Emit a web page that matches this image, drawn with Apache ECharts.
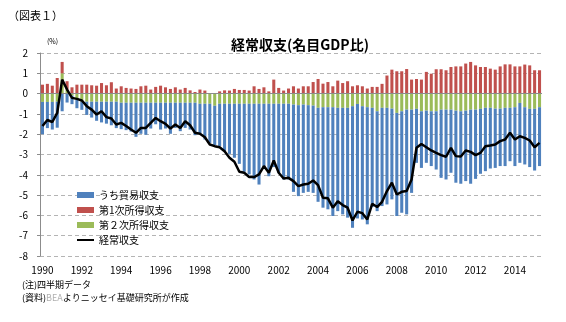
<!DOCTYPE html>
<html>
<head>
<meta charset="utf-8">
<script src="https://cdn.jsdelivr.net/npm/echarts@6/dist/echarts.min.js"></script>
<style>
html,body{margin:0;padding:0;background:#fff;}
#c{width:566px;height:322px;}
</style>
</head>
<body>
<div id="c"></div>
<script>
// Quarterly, 1990Q1 - 2015Q2
const firstYear = 1990;
const quarterCount = 102;
const yTicks = [-8, -7, -6, -5, -4, -3, -2, -1, 0, 1, 2];

// うち貿易収支 (% of nominal GDP)
const tradeBalance = [
 -1.59,-1.29,-1.36,-1.28,-0.87,-0.44,-0.42,-0.42,-0.40,-0.65,-0.78,-0.94,-1.02,-1.08,-1.16,-1.30,
 -1.30,-1.35,-1.42,-1.68,-1.53,-1.58,-1.27,-1.06,-1.32,-1.27,-1.53,-1.24,-1.40,-1.24,-1.32,-1.60,
 -1.48,-1.76,-1.93,-1.94,-2.09,-2.34,-2.47,-2.66,-2.96,-3.35,-3.48,-3.73,-3.98,-3.16,-3.57,-3.12,
 -3.40,-3.73,-3.73,-4.30,-4.48,-4.35,-4.27,-4.30,-4.63,-4.95,-5.03,-5.36,-5.09,-5.25,-5.41,-5.99,
 -5.64,-5.58,-5.77,-4.89,-4.92,-4.84,-4.76,-4.47,-5.08,-5.00,-5.16,-4.10,-2.66,-2.79,-2.57,-2.70,
 -2.87,-3.36,-3.44,-3.11,-3.55,-3.57,-3.47,-3.65,-3.41,-3.20,-3.12,-2.99,-2.92,-2.83,-2.87,-2.63,
 -2.90,-2.95,-2.82,-2.87,-3.04,-2.90
];
// 第1次所得収支
const primaryIncome = [
 0.44,0.48,0.39,0.77,0.56,0.41,0.31,0.44,0.44,0.44,0.41,0.39,0.52,0.41,0.56,0.25,
 0.36,0.28,0.25,0.23,0.36,0.39,0.20,0.33,0.39,0.31,0.23,0.31,0.20,0.28,0.16,0.08,
 0.20,0.15,0.03,0.02,0.11,0.16,0.15,0.23,0.18,0.18,0.15,0.36,0.23,0.31,0.11,0.69,
 0.28,0.15,0.25,0.36,0.25,0.36,0.36,0.57,0.72,0.49,0.57,0.36,0.64,0.52,0.61,0.36,
 0.41,0.36,0.25,0.33,0.33,0.48,0.89,1.18,1.10,1.10,1.21,0.69,0.72,0.69,1.07,0.98,
 1.20,1.20,1.15,1.31,1.34,1.34,1.48,1.56,1.39,1.31,1.31,1.23,1.18,1.34,1.44,1.44,
 1.34,1.34,1.43,1.39,1.15,1.15
];
// 第2次所得収支
const secondaryIncome = [
 -0.41,-0.41,-0.41,-0.40,1.00,0.20,-0.10,-0.30,-0.40,-0.40,-0.40,-0.40,-0.40,-0.40,-0.40,-0.40,
 -0.45,-0.45,-0.45,-0.45,-0.45,-0.45,-0.45,-0.45,-0.45,-0.45,-0.45,-0.45,-0.45,-0.45,-0.45,-0.45,
 -0.50,-0.50,-0.50,-0.60,-0.50,-0.50,-0.50,-0.50,-0.50,-0.50,-0.50,-0.50,-0.50,-0.50,-0.50,-0.50,
 -0.50,-0.50,-0.50,-0.54,-0.57,-0.54,-0.57,-0.59,-0.70,-0.67,-0.67,-0.67,-0.70,-0.70,-0.70,-0.62,
 -0.51,-0.62,-0.67,-0.70,-0.87,-0.70,-0.70,-0.74,-0.95,-0.87,-0.79,-0.79,-0.75,-0.87,-0.84,-0.87,
 -0.87,-0.79,-0.79,-0.79,-0.84,-0.87,-0.84,-0.79,-0.79,-0.75,-0.70,-0.70,-0.74,-0.74,-0.70,-0.70,
 -0.67,-0.46,-0.67,-0.75,-0.75,-0.67
];
// 経常収支
const currentAccount = [
 -1.60,-1.30,-1.40,-0.95,0.69,0.20,-0.21,-0.26,-0.34,-0.62,-0.79,-1.03,-0.87,-1.16,-1.23,-1.52,
 -1.44,-1.60,-1.77,-1.93,-1.69,-1.69,-1.44,-1.20,-1.36,-1.49,-1.72,-1.52,-1.69,-1.36,-1.56,-1.93,
 -1.98,-2.15,-2.51,-2.59,-2.64,-2.84,-3.16,-3.36,-3.85,-3.90,-4.11,-4.11,-3.98,-3.57,-3.90,-3.30,
 -3.90,-4.18,-4.15,-4.31,-4.56,-4.48,-4.44,-4.28,-4.51,-5.13,-5.16,-5.62,-5.30,-5.49,-5.62,-6.25,
 -5.82,-5.89,-6.20,-5.43,-5.59,-5.33,-4.80,-4.39,-4.97,-4.84,-4.80,-4.23,-2.67,-2.48,-2.64,-2.80,
 -2.92,-3.03,-3.11,-2.67,-3.08,-3.10,-2.80,-2.87,-3.03,-2.92,-2.59,-2.56,-2.51,-2.34,-2.26,-1.93,
 -2.26,-2.10,-2.18,-2.31,-2.64,-2.43
];

const categories = [];
for (let i = 0; i < quarterCount; i++) {
  categories.push((firstYear + Math.floor(i / 4)) + 'Q' + (i % 4 + 1));
}

const FONT = '"Noto Sans CJK JP", "Noto Sans", sans-serif';
const LINE_ICON = 'path://M0,0L0.01,0L0.01,0.01Z M0,2.1L17,2.1L17,3.9L0,3.9Z M16.99,5.99L17,5.99L17,6Z';
const chart = echarts.init(document.getElementById('c'), null, {renderer: 'canvas'});
chart.setOption({
  animation: false,
  backgroundColor: '#ffffff',
  textStyle: {fontFamily: FONT},
  title: {
    text: '経常収支(名目GDP比)',
    left: 226, top: 33,
    textStyle: {fontFamily: FONT, fontSize: 14, fontWeight: 'bold', color: '#000'}
  },
  graphic: [
    {type: 'text', left: 8, top: 10, style: {text: '（図表１）', font: '11px ' + FONT, fill: '#000'}},
    {type: 'text', left: 47, top: 38, style: {text: '(%)', font: '7px ' + FONT, fill: '#000'}},
    {type: 'text', left: 22, top: 280, style: {text: '(注)四半期データ', font: '9px ' + FONT, fill: '#000'}},
    {type: 'text', left: 22, top: 293, style: {
      text: '(資料){g|BEA}よりニッセイ基礎研究所が作成', font: '9px ' + FONT, fill: '#000',
      rich: {g: {fill: '#b0b0b0', font: '9px ' + FONT}}
    }}
  ],
  legend: {
    orient: 'vertical',
    left: 77, top: 189, padding: 0,
    itemWidth: 17, itemHeight: 6, itemGap: 3,
    textStyle: {fontFamily: FONT, fontSize: 10, color: '#000', lineHeight: 12},
    data: [
      {name: 'うち貿易収支', icon: 'rect'},
      {name: '第1次所得収支', icon: 'rect'},
      {name: '第２次所得収支', icon: 'rect'},
      {name: '経常収支', icon: LINE_ICON, itemStyle: {color: '#000'}}
    ]
  },
  grid: {left: 40, right: 24, top: 53, bottom: 66, containLabel: false},
  xAxis: {
    type: 'category',
    data: categories,
    boundaryGap: true,
    axisLine: {show: false, onZero: false},
    axisTick: {show: false},
    axisLabel: {
      interval: 7, margin: 9, fontSize: 10, color: '#000', fontFamily: FONT,
      formatter: v => v.slice(0, 4)
    },
    splitLine: {show: false}
  },
  yAxis: {
    type: 'value',
    min: yTicks[0], max: yTicks[yTicks.length - 1], interval: 1,
    axisLine: {show: true, lineStyle: {color: '#8c8c8c', width: 1}},
    axisTick: {show: true, length: 3, lineStyle: {color: '#8c8c8c'}},
    axisLabel: {margin: 12, fontSize: 10, color: '#000', fontFamily: FONT},
    splitLine: {show: true, lineStyle: {color: '#b4b4b4', type: [4, 3], width: 1}}
  },
  series: [
    {
      name: '第２次所得収支', type: 'bar', stack: 'ca', data: secondaryIncome,
      barCategoryGap: '38%', itemStyle: {color: '#9BBB59'}
    },
    {
      name: 'うち貿易収支', type: 'bar', stack: 'ca', data: tradeBalance,
      barCategoryGap: '38%', itemStyle: {color: '#4F81BD'}
    },
    {
      name: '第1次所得収支', type: 'bar', stack: 'ca', data: primaryIncome,
      barCategoryGap: '38%', itemStyle: {color: '#C0504D'}
    },
    {
      name: '経常収支', type: 'line', data: currentAccount,
      symbol: 'none', z: 5,
      lineStyle: {color: '#000', width: 2.5},
      itemStyle: {color: '#000'},
      markLine: {
        silent: true, symbol: 'none', label: {show: false},
        lineStyle: {color: '#8c8c8c', type: 'solid', width: 1},
        data: [{yAxis: 0}]
      }
    }
  ]
});
</script>
</body>
</html>
